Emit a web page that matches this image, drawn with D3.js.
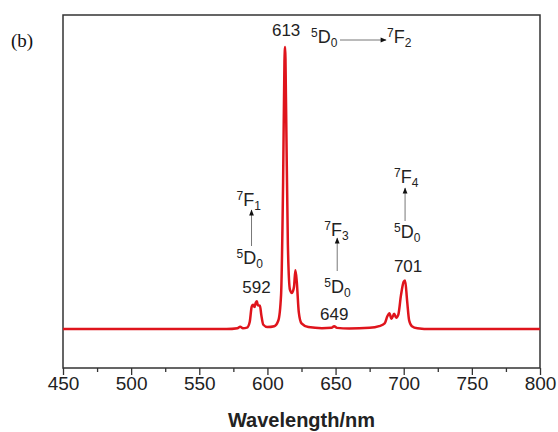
<!DOCTYPE html>
<html>
<head>
<meta charset="utf-8">
<script src="https://d3js.org/d3.v7.min.js"></script>
<style>
  body { margin: 0; background: #fff; }
  text { font-family: "Liberation Sans", Arial, sans-serif; fill: #222; }
  .tick text { font-size: 19px; }
  .tick line { stroke: #333; stroke-width: 1.3; }
</style>
</head>
<body>
<div id="chart"></div>
<script>
// emission spectrum (nm / relative intensity, 613 nm peak = 100)
var wavelength = [450, 570, 578, 580, 582, 585, 587, 588.5, 589.5, 590.5, 591.5, 592.3, 593, 594.5, 595.5, 597, 600,
                  605, 608, 610, 611.5, 612.5, 613, 613.7, 615, 616.5, 618, 619.5, 620.5, 621.5, 623, 625, 630,
                  640, 647, 649, 651, 660, 675, 682, 686, 688, 689.5, 691, 693, 694.5, 696, 698, 700, 701,
                  702.5, 704, 706, 710, 720, 800];
var intensity  = [0, 0, 0.3, 0.8, 0.3, 0.5, 2.5, 8, 8.6, 7.8, 9.4, 9.8, 8.4, 8.3, 5, 1.5, 0.7,
                  1, 3, 12, 52, 95, 100, 78, 30, 14, 12.8, 15, 20.8, 17, 6, 2, 0.7,
                  0.3, 0.4, 1, 0.4, 0.2, 0.4, 1, 2, 4.5, 5.6, 3.6, 5.4, 4, 5, 12, 16.8, 17.2,
                  10, 3, 1, 0.3, 0, 0];

var xTicks = [450, 500, 550, 600, 650, 700, 750, 800];
var xMinor = [475, 525, 575, 625, 675, 725, 775];

var peakNm     = [592, 613, 649, 701];
var peakLabels = ["592", "613", "649", "701"];

var xTitle = "Wavelength/nm";
var panelLabel = "(b)";

// transitions 5D0 -> 7FJ
var lowerTerm = { sup: "5", el: "D", sub: "0" };
var upperTerms = [
  { sup: "7", el: "F", sub: "1" },
  { sup: "7", el: "F", sub: "2" },
  { sup: "7", el: "F", sub: "3" },
  { sup: "7", el: "F", sub: "4" }
];

var width = 558, height = 432;
var margin = { top: 15, right: 18, bottom: 64, left: 63 };

var svg = d3.select("#chart").append("svg")
    .attr("width", width)
    .attr("height", height);

var x = d3.scaleLinear().domain([450, 800]).range([margin.left, width - margin.right]);
var y = d3.scaleLinear().domain([0, 100]).range([329, 47]);

var plotBottom = height - margin.bottom;

// arrow head
svg.append("defs").append("marker")
    .attr("id", "head")
    .attr("viewBox", "0 0 10 10")
    .attr("refX", 9).attr("refY", 5)
    .attr("markerWidth", 7).attr("markerHeight", 6)
    .attr("markerUnits", "userSpaceOnUse")
    .attr("orient", "auto")
  .append("path")
    .attr("d", "M0,1 L10,5 L0,9 Z")
    .attr("fill", "#111");

// bottom axis, major + minor ticks
var axisG = svg.append("g").attr("transform", "translate(0," + plotBottom + ")");
axisG.call(d3.axisBottom(x).tickValues(xTicks).tickSize(7).tickPadding(2).tickFormat(d3.format("d")));
axisG.select(".domain").remove();

var minorG = svg.append("g").attr("transform", "translate(0," + plotBottom + ")");
minorG.call(d3.axisBottom(x).tickValues(xMinor).tickSize(4).tickFormat(""));
minorG.select(".domain").remove();

// frame
svg.append("rect")
    .attr("x", margin.left).attr("y", margin.top)
    .attr("width", width - margin.left - margin.right)
    .attr("height", plotBottom - margin.top)
    .attr("fill", "none")
    .attr("stroke", "#333")
    .attr("stroke-width", 1.5);

// spectrum
var line = d3.line()
    .x(function(d, i) { return x(wavelength[i]); })
    .y(function(d) { return y(d); })
    .curve(d3.curveMonotoneX);

svg.append("path")
    .datum(intensity)
    .attr("d", line)
    .attr("fill", "none")
    .attr("stroke", "#df141c")
    .attr("stroke-width", 2.5)
    .attr("stroke-linejoin", "round");

// peak numbers
var peakY = [293, 36, 320, 272];
var peakDx = [0, 1, 0, 3];
svg.selectAll(".peak")
    .data(peakLabels)
    .enter().append("text")
    .attr("class", "peak")
    .attr("x", function(d, i) { return x(peakNm[i]) + peakDx[i]; })
    .attr("y", function(d, i) { return peakY[i]; })
    .attr("text-anchor", "middle")
    .style("font-size", "17px")
    .text(function(d) { return d; });

function term(px, py, t) {
  var txt = svg.append("text").attr("x", px).attr("y", py).style("font-size", "18px");
  txt.append("tspan").text(t.sup).style("font-size", "12px").attr("dy", -6);
  txt.append("tspan").text(t.el).style("font-size", "18px").attr("dy", 6);
  txt.append("tspan").text(t.sub).style("font-size", "12px").attr("dy", 4);
}

function arrow(x1, y1, x2, y2) {
  svg.append("line")
    .attr("x1", x1).attr("y1", y1).attr("x2", x2).attr("y2", y2)
    .attr("stroke", "#777")
    .attr("stroke-width", 1)
    .attr("marker-end", "url(#head)");
}

// 5D0 -> 7F1 (vertical)
term(x(592) - 20, 264, lowerTerm);
arrow(x(592) - 5, 246, x(592) - 5, 210);
term(x(592) - 20, 206, upperTerms[0]);

// 5D0 -> 7F2 (horizontal, top)
term(311, 43, lowerTerm);
arrow(340, 40, 386, 40);
term(387, 43, upperTerms[1]);

// 5D0 -> 7F3
term(x(649) - 10, 293, lowerTerm);
arrow(x(649) + 3, 271, x(649) + 3, 238);
term(x(649) - 10, 236, upperTerms[2]);

// 5D0 -> 7F4
term(x(701) - 11, 238, lowerTerm);
arrow(x(701), 221, x(701), 188);
term(x(701) - 11, 183, upperTerms[3]);

// axis title
svg.append("text")
    .attr("x", (margin.left + width - margin.right) / 2)
    .attr("y", 427)
    .attr("text-anchor", "middle")
    .style("font-size", "20px")
    .style("font-weight", "bold")
    .text(xTitle);

// panel label
svg.append("text")
    .attr("x", 11).attr("y", 47)
    .style("font-family", "'Liberation Serif', 'Times New Roman', serif")
    .style("font-size", "19px")
    .style("fill", "#111")
    .text(panelLabel);
</script>
</body>
</html>
